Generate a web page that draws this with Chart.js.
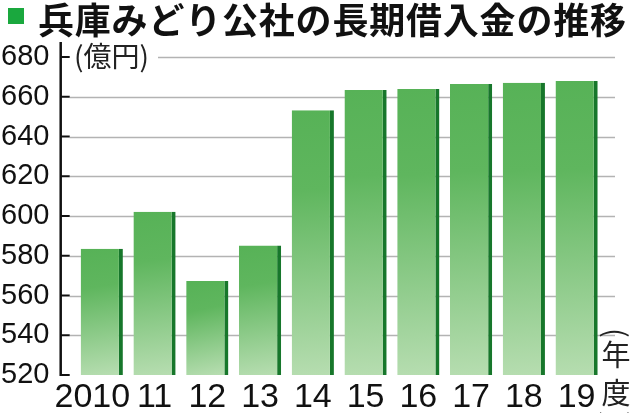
<!DOCTYPE html>
<html>
<head>
<meta charset="utf-8">
<script src="https://cdn.jsdelivr.net/npm/chart.js@4"></script>
<style>
html,body{margin:0;padding:0;background:#fff;}
#wrap{position:relative;width:630px;height:413px;}
</style>
</head>
<body>
<div id="wrap"><canvas id="c" width="630" height="413"></canvas></div>
<script>
const TITLE = '兵庫みどり公社の長期借入金の推移';
const UNIT_LABEL = '(億円)';
const X_UNIT = ['(', '年', '度', ')'];
const categories = ['2010', '11', '12', '13', '14', '15', '16', '17', '18', '19'];
const borrowings = [583.5, 602.2, 567.3, 585.2, 653.2, 663.4, 663.9, 666.4, 667.1, 667.9];
const yTicks = [520, 540, 560, 580, 600, 620, 640, 660, 680];

const NUM_FONT = "'Liberation Sans Narrow', 'Liberation Sans', sans-serif";
const JP_FONT = "'Noto Sans CJK JP', sans-serif";

function barFill(ctx) {
  const chart = ctx.chart;
  const { chartArea, scales } = chart;
  if (!chartArea || !scales.y || ctx.raw == null) return '#6dbb66';
  const top = scales.y.getPixelForValue(ctx.raw);
  const bottom = scales.y.getPixelForValue(yTicks[0]);
  const x = scales.x.getPixelForValue(ctx.dataIndex);
  const g = chart.ctx.createLinearGradient(x - 10, top, x + 10, bottom);
  g.addColorStop(0, '#57b257');
  g.addColorStop(0.3, '#5fb65e');
  g.addColorStop(1, '#b6ddb0');
  return g;
}

const decor = {
  id: 'decor',
  beforeDatasetsDraw(chart) {
    const { ctx, chartArea, scales } = chart;
    const y = scales.y;
    const axisX = chartArea.left - 14.7;
    ctx.save();
    ctx.strokeStyle = '#b3b3b3';
    ctx.lineWidth = 1.5;
    yTicks.forEach(v => {
      if (v === yTicks[0]) return;
      const py = Math.round(y.getPixelForValue(v)) + 0.5;
      const x0 = v === yTicks[yTicks.length - 1] ? 158 : axisX + 9;
      ctx.beginPath();
      ctx.moveTo(x0, py);
      ctx.lineTo(chartArea.right + 12, py);
      ctx.stroke();
    });
    ctx.restore();
  },
  afterDraw(chart) {
    const { ctx, chartArea, scales } = chart;
    const y = scales.y;
    const axisX = chartArea.left - 14.7;
    ctx.save();
    ctx.strokeStyle = '#111';
    ctx.lineWidth = 2.5;
    ctx.beginPath();
    ctx.moveTo(axisX, 42);
    ctx.lineTo(axisX, y.getPixelForValue(yTicks[0]) + 1);
    ctx.stroke();
    ctx.lineWidth = 2;
    yTicks.forEach(v => {
      const py = y.getPixelForValue(v);
      ctx.beginPath();
      ctx.moveTo(axisX, py);
      ctx.lineTo(axisX + 9, py);
      ctx.stroke();
    });
    ctx.fillStyle = '#222';
    ctx.font = "28px " + JP_FONT;
    ctx.textBaseline = 'middle';
    ctx.textAlign = 'left';
    ctx.fillText(UNIT_LABEL, 74, y.getPixelForValue(yTicks[yTicks.length - 1]) - 1);
    // title
    ctx.fillStyle = '#1aa83e';
    ctx.fillRect(8, 8, 16, 16);
    ctx.fillStyle = '#111';
    ctx.font = "bold 36px " + JP_FONT;
    ctx.letterSpacing = '0.8px';
    ctx.textBaseline = 'middle';
    ctx.fillText(TITLE, 38, 20);
    ctx.letterSpacing = '0px';
    // x unit, vertical
    ctx.font = "29px " + JP_FONT;
    ctx.textAlign = 'center';
    ctx.fillStyle = '#222';
    const ys = [333, 355, 393, 416];
    X_UNIT.forEach((ch, i) => {
      if (ch === '(' || ch === ')') {
        ctx.save();
        ctx.translate(616, ys[i]);
        ctx.rotate(Math.PI / 2);
        ctx.fillText(ch, 0, 0);
        ctx.restore();
      } else {
        ctx.fillText(ch, 616, ys[i]);
      }
    });
    ctx.restore();
  }
};

new Chart(document.getElementById('c'), {
  type: 'bar',
  data: {
    labels: categories,
    datasets: [{
      data: borrowings,
      backgroundColor: barFill,
      borderColor: '#17772b',
      borderWidth: { top: 0, right: 4, bottom: 0, left: 0 },
      borderSkipped: false,
      categoryPercentage: 1,
      barPercentage: 0.8
    }]
  },
  options: {
    responsive: false,
    animation: false,
    devicePixelRatio: 1,
    layout: { padding: { top: 57, right: 27, left: 0, bottom: 0 } },
    plugins: { legend: { display: false }, title: { display: false }, tooltip: { enabled: false } },
    scales: {
      x: {
        grid: { display: false, drawTicks: false },
        border: { display: false },
        ticks: {
          autoSkip: false, maxRotation: 0, padding: 2, color: '#111',
          font: { family: NUM_FONT, size: 34 },
          callback: (v, i) => i === 0 ? categories[i] + '  ' : categories[i]
        },
        afterFit(s) { s.height = 38; }
      },
      y: {
        min: yTicks[0], max: yTicks[yTicks.length - 1],
        grid: { color: 'rgba(0,0,0,0)', drawTicks: true, tickLength: 15, tickColor: 'rgba(0,0,0,0)' },
        border: { display: false },
        ticks: {
          stepSize: 20, padding: 11, color: '#111', autoSkip: false,
          font: { family: NUM_FONT, size: 29 }
        },
        afterFit(s) { s.width = 75.4; }
      }
    }
  },
  plugins: [decor]
});
</script>
</body>
</html>
